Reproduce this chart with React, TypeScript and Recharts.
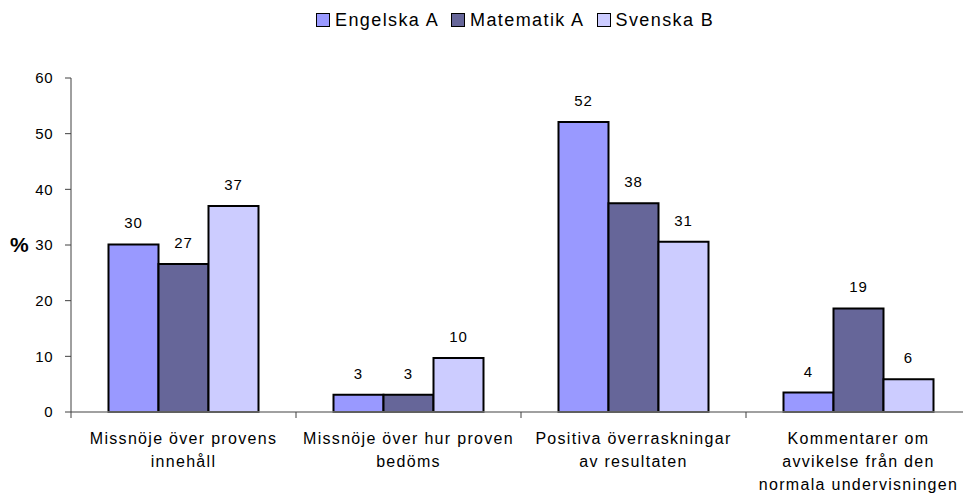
import React from "react";
import { BarChart, Bar, XAxis, YAxis, Legend, LabelList } from "recharts";

const categories = [
  "Missnöje över provens innehåll",
  "Missnöje över hur proven bedöms",
  "Positiva överraskningar av resultaten",
  "Kommentarer om avvikelse från den normala undervisningen",
];
const categoryLines = [
  ["Missnöje över provens", "innehåll"],
  ["Missnöje över hur proven", "bedöms"],
  ["Positiva överraskningar", "av resultaten"],
  ["Kommentarer om", "avvikelse från den", "normala undervisningen"],
];
const seriesNames = ["Engelska A", "Matematik A", "Svenska B"];
const engelskaA = [30.1, 3.1, 52.1, 3.5];
const matematikA = [26.6, 3.1, 37.5, 18.6];
const svenskaB = [37.0, 9.7, 30.6, 5.9];
const yTicks = [0, 10, 20, 30, 40, 50, 60];

const colors = ["#9999FF", "#666699", "#CCCCFF"];
const keys = ["engelskaA", "matematikA", "svenskaB"];
const FONT = "'Liberation Sans', Arial, sans-serif";

const data = categories.map((c, i) => ({
  name: c,
  lines: categoryLines[i],
  engelskaA: engelskaA[i],
  matematikA: matematikA[i],
  svenskaB: svenskaB[i],
}));

const XTick = (props: any) => {
  const { x, y, payload, index } = props;
  const off = payload && typeof payload.offset === "number" ? payload.offset : 112.5;
  const lines = categoryLines[index] || [String(payload.value)];
  return (
    <g>
      <line x1={x - off} x2={x - off} y1={y - 20} y2={y - 14} stroke="#404040" strokeWidth={1} />
      <text
        x={x}
        y={y}
        textAnchor="middle"
        fontSize={16}
        fontFamily={FONT}
        letterSpacing={1.3}
        fill="#000"
      >
        {lines.map((l, k) => (
          <tspan key={k} x={x} dy={k === 0 ? 11.5 : 23}>
            {l}
          </tspan>
        ))}
      </text>
    </g>
  );
};

const LegendContent = () => (
  <div style={{ display: "flex", alignItems: "center", fontFamily: FONT, fontSize: 18, lineHeight: "20px", whiteSpace: "nowrap" }}>
    {seriesNames.map((n, i) => (
      <div key={n} style={{ display: "flex", alignItems: "center", marginRight: 12 }}>
        <span
          style={{
            display: "inline-block",
            width: 12,
            height: 12,
            background: colors[i],
            border: "1.5px solid #000",
            marginRight: 5,
          }}
        />
        <span style={{ letterSpacing: 1.4, color: "#000" }}>{n}</span>
      </div>
    ))}
  </div>
);

export default function App() {
  return (
    <div style={{ position: "absolute", left: 0, top: 0, width: 963, height: 494, overflow: "hidden", background: "#fff" }}>
      <BarChart
        width={975}
        height={494}
        data={data}
        margin={{ top: 78, right: 4, left: 0, bottom: 0 }}
        barCategoryGap={37.5}
        barGap={0}
      >
        <XAxis
          dataKey="name"
          height={82}
          tick={<XTick />}
          tickLine={false}
          tickSize={5}
          tickMargin={15}
          interval={0}
          axisLine={{ stroke: "#808080", strokeWidth: 1.5 }}
        />
        <YAxis
          width={71}
          domain={[0, 60]}
          ticks={yTicks}
          interval={0}
          tickSize={6}
          tickMargin={12}
          axisLine={{ stroke: "#404040", strokeWidth: 1 }}
          tickLine={{ stroke: "#404040", strokeWidth: 1 }}
          tick={{ fontSize: 15, fill: "#000", fontFamily: FONT, letterSpacing: 0.5 }}
          label={{
            value: "%",
            position: "insideLeft",
            offset: 10,
            fontSize: 21,
            fontWeight: "bold",
            fill: "#000",
            fontFamily: FONT,
          }}
        />
        <Legend
          layout="horizontal"
          verticalAlign="middle"
          align="center"
          content={<LegendContent />}
          wrapperStyle={{ top: 10, left: 316, width: "auto", height: 20 }}
        />
        {keys.map((k, i) => (
          <Bar key={k} dataKey={k} name={seriesNames[i]} fill={colors[i]} stroke="#000" strokeWidth={2} isAnimationActive={false}>
            <LabelList
              dataKey={k}
              position="top"
              offset={16}
              formatter={(v: any) => Math.round(Number(v))}
              style={{ fontSize: 15, fill: "#000", fontFamily: FONT, letterSpacing: 1 }}
            />
          </Bar>
        ))}
      </BarChart>
    </div>
  );
}
